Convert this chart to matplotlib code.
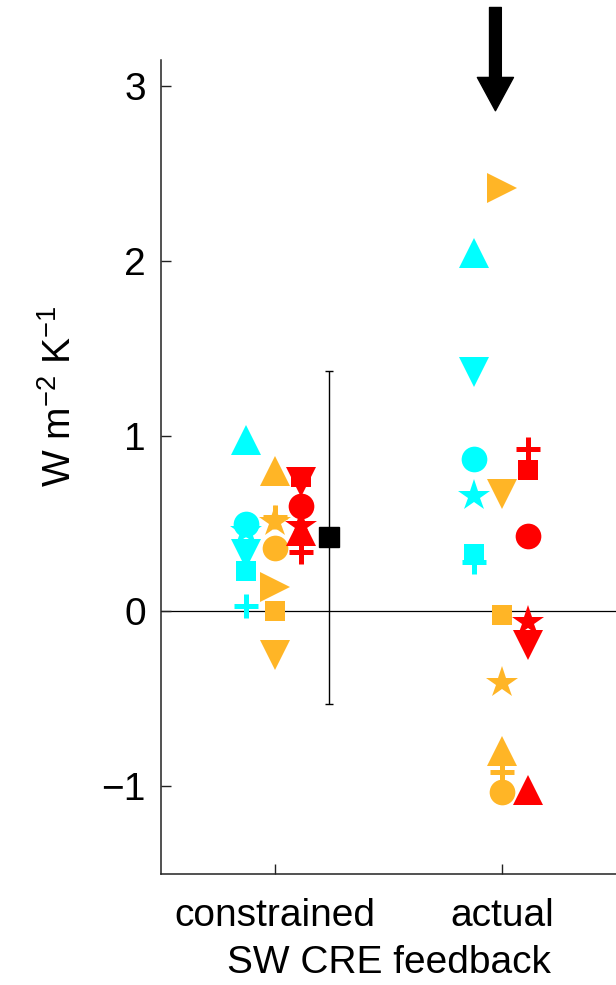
import numpy as np
import matplotlib
matplotlib.use("Agg")
import matplotlib.pyplot as plt

plt.rcParams['font.family'] = ['Liberation Sans', 'DejaVu Sans']
plt.rcParams['mathtext.fontset'] = 'custom'
plt.rcParams['mathtext.rm'] = 'Liberation Sans'
plt.rcParams['mathtext.it'] = 'Liberation Sans:italic'
plt.rcParams['mathtext.bf'] = 'Liberation Sans:bold'

# ---- data ----
categories = ["constrained", "actual"]
markers = ['^', 'v', 'o', '*', 's', '>', '+']
group_colors = ['#00FFFF', '#FFB526', '#FF0000']
group_offsets = [-0.125, 0.0, 0.115]

# values per marker (model) for each category; nan = not present
cyan_constrained = [0.98, 0.33, 0.50, 0.46, 0.23, np.nan, 0.03]
cyan_actual = [2.05, 1.37, 0.87, 0.66, 0.33, np.nan, 0.28]
orange_constrained = [0.80, -0.25, 0.36, 0.51, 0.00, 0.14, 0.54]
orange_actual = [-0.80, 0.67, -1.03, -0.41, -0.02, 2.42, -0.92]
red_constrained = [0.46, 0.74, 0.60, 0.49, 0.77, np.nan, 0.34]
red_actual = [-1.02, -0.19, 0.43, -0.06, 0.81, np.nan, 0.93]

groups = [
    [cyan_constrained, cyan_actual],
    [orange_constrained, orange_actual],
    [red_constrained, red_actual],
]

err_halfwidth = 0.95
yticks = [-1, 0, 1, 2, 3]

# marker sizes (points)
msize = {'^': 21, 'v': 21, '>': 21, 'o': 18.5, 's': 15, '*': 24, '+': 17}

fig = plt.figure(figsize=(6.16, 9.85), dpi=100)
ax = fig.add_axes([161/616, (985-874)/985, 455/616, 814/985])

xpos = np.arange(1, len(categories) + 1)

ax.axhline(0, color='black', lw=0.9, zorder=1)

draw_order = ['+', '^', 'v', 'o', 's', '>', '*']
for gi, (vals_pair, col, off) in enumerate(zip(groups, group_colors, group_offsets)):
    for ci, vals in enumerate(vals_pair):
        for m in draw_order:
            k = markers.index(m)
            v = vals[k]
            if np.isnan(v):
                continue
            if m == '+':
                ax.plot(xpos[ci] + off, v, marker='+', ms=msize[m], mew=3.6,
                        color=col, ls='none', zorder=3)
            else:
                ax.plot(xpos[ci] + off, v, marker=m, ms=msize[m], mew=0,
                        color=col, ls='none', zorder=3)

# multi-model mean of constrained with error bar
allc = np.array(cyan_constrained + orange_constrained + red_constrained, dtype=float)
mean_c = np.nanmean(allc)
ax.errorbar(xpos[0] + 0.24, mean_c, yerr=err_halfwidth, fmt='s', color='black',
            ms=14, elinewidth=1.0, capsize=3, capthick=1.0, zorder=4)

# arrow above "actual"
ax.annotate('', xy=(xpos[1] - 0.03, 2.86), xytext=(xpos[1] - 0.03, 3.45),
            arrowprops=dict(width=8.5, headwidth=26, headlength=24, color='black',
                            shrink=0),
            annotation_clip=False)

ax.set_xlim(0.5, 2.5)
ax.set_ylim(-1.5, 3.15)
ax.set_xticks(xpos)
ax.set_xticklabels(categories)
ax.set_yticks(yticks)
ax.set_yticklabels(['\u22121', '0', '1', '2', '3'])

ax.spines['top'].set_visible(False)
ax.spines['right'].set_visible(False)
for s in ['left', 'bottom']:
    ax.spines[s].set_linewidth(1.1)
    ax.spines[s].set_color('#222222')

ax.tick_params(axis='both', direction='in', length=7, width=1.0, labelsize=28,
               colors='#222222', labelcolor='black')
ax.tick_params(axis='y', pad=11)
ax.tick_params(axis='x', pad=17)

ax.set_xlabel('SW CRE feedback', fontsize=28, labelpad=8)
ax.set_ylabel('W m$^{\\mathregular{-2}}$ K$^{\\mathregular{-1}}$', fontsize=28)
ax.yaxis.set_label_coords(-0.181, 0.587)

fig.savefig('out.png', dpi=100)
